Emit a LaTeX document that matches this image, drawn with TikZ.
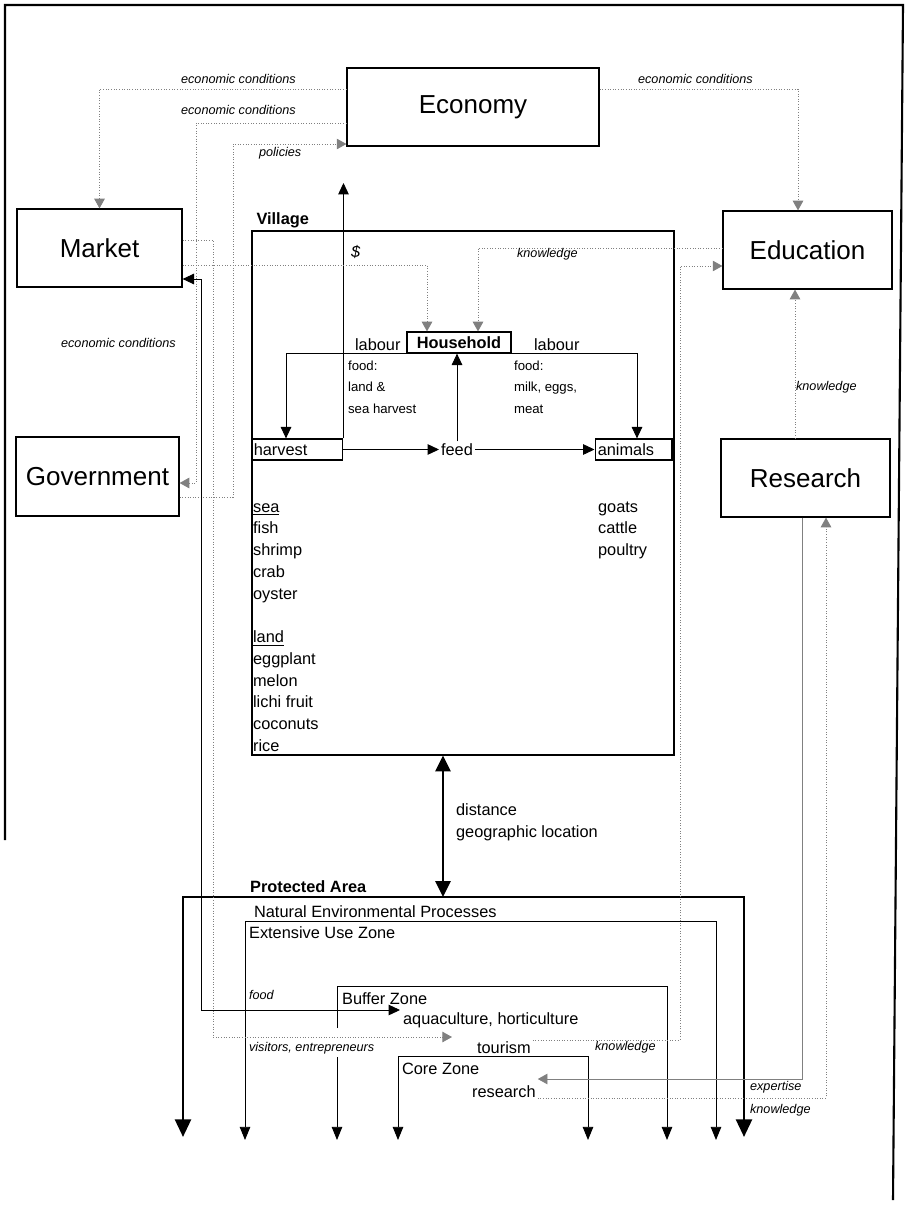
\documentclass[tikz,border=0pt]{standalone}
\usepackage{fontspec}
\setmainfont{Liberation Sans}
\usetikzlibrary{positioning,calc,arrows.meta}
\tikzset{font=\fontsize{9.3}{11}\selectfont}

\begin{document}
\begin{tikzpicture}[x=0.02cm, y=-0.02cm]
	\useasboundingbox (0,0) rectangle (910,1206);
	\begin{scope}
		\tikzstyle{every node}=[inner sep=1pt]
		\tikzstyle{bigbox}=[draw, line width=0.7pt, font=\fontsize{14.8}{17}\selectfont, minimum height=1.56cm]
		\tikzstyle{smallbox}=[draw, line width=0.7pt, minimum height=0.42cm, inner xsep=1.5pt, inner ysep=0pt, align=left]
		\tikzstyle{txt}=[anchor=base west]
		\tikzstyle{lbl}=[anchor=base west, font=\fontsize{7.2}{9}\selectfont\itshape]
		\tikzstyle{note}=[anchor=base west, font=\fontsize{7.5}{9}\selectfont]
		\tikzstyle{head}=[anchor=base west, font=\fontsize{9.3}{11}\selectfont\bfseries]
		\tikzstyle{flow}=[line width=0.5pt, -{Triangle[length=6.5pt, width=6pt]}]
		\tikzstyle{both}=[line width=0.5pt, {Triangle[length=6.5pt, width=6pt]}-{Triangle[length=6.5pt, width=6pt]}]
		\tikzstyle{link}=[black!50, densely dotted, line width=0.5pt, -{Triangle[length=5.5pt, width=6pt]}]
		\tikzstyle{zone}=[line width=0.5pt, {Triangle[length=7.5pt, width=6pt]}-{Triangle[length=7.5pt, width=6pt]}]
		\tikzstyle{zoneend}=[line width=0.5pt, -{Triangle[length=7.5pt, width=6pt]}]
		\tikzstyle{parea}=[line width=1.6pt, {Triangle[length=10pt, width=9pt]}-{Triangle[length=10pt, width=9pt]}]
		\tikzstyle{dist}=[line width=1.6pt, {Triangle[length=9pt, width=8.5pt]}-{Triangle[length=9pt, width=8.5pt]}]

		% frame
		\draw[line width=1.2pt] (5,840) -- (5,5) -- (903,5) -- (893,1200);

		% outside boxes
		\node[bigbox, minimum width=5.04cm] (economy) at (473,107) {Economy};
		\node[bigbox, minimum width=3.3cm] (market) at (99.5,248) {Market};
		\node[bigbox, minimum width=3.26cm, minimum height=1.58cm] (government) at (97.5,476.5) {Government};
		\node[bigbox, minimum width=3.38cm] (education) at (807.5,250) {Education};
		\node[bigbox, minimum width=3.38cm] (research) at (805.5,478) {Research};

		% village
		\node[draw, line width=0.7pt, minimum width=8.44cm, minimum height=10.48cm] (village) at (463,493) {};
		\node[head, anchor=south west, xshift=0.06cm] (villagelbl) at (village.north west) {Village};
		\node[smallbox, font=\fontsize{9.3}{11}\selectfont\bfseries, minimum width=2.08cm] (household) at (459,342.5) {Household};
		\node[smallbox, text width=1.73cm] (harvest) at (297,449.5) {harvest};
		\node[smallbox, text width=1.43cm] (animals) at (633.5,449.5) {animals};
		\node (feed) at (457,449.5) {feed};

		\node[txt] (labourl) at (353,350) {labour};
		\node[txt] (labourr) at (532,350) {labour};
		\node[note] (foodl1) at (346,370) {food:};
		\node[note] (foodl2) at (346,391) {land \&};
		\node[note] (foodl3) at (346,413) {sea harvest};
		\node[note] (foodr1) at (512,370) {food:};
		\node[note] (foodr2) at (512,391) {milk, eggs,};
		\node[note] (foodr3) at (512,413) {meat};
		\node[txt, font=\fontsize{9.3}{11}\selectfont\itshape] (dollar) at (349,257) {\$};

		\foreach \w/\i in {\underline{sea}/0, fish/1, shrimp/2, crab/3, oyster/4, \underline{land}/6, eggplant/7, melon/8, lichi fruit/9, coconuts/10, rice/11}
			\node[txt] (crop\i) at (251,512+21.75*\i) {\w};
		\foreach \w/\i in {goats/0, cattle/1, poultry/2}
			\node[txt] (stock\i) at (596,512+21.75*\i) {\w};

		% village flows
		\draw[flow] (harvest.north east) -- (harvest.north east |- 0,183);
		\draw[flow] (household.south west) -| (harvest.north -| 286,0);
		\draw[flow] (household.south east) -| (animals.north -| 637,0);
		\draw[flow] (feed.north) -- (feed.north |- household.south);
		\draw[flow] (harvest.east) -- (feed.west);
		\draw[flow] (feed.east) -- (animals.west);

		% protected area
		\coordinate (patop) at (443,897);
		\draw[dist] (village.south -| patop) -- (patop);
		\node[txt] (dist1) at (454,815) {distance};
		\node[txt] (dist2) at (454,837) {geographic location};

		\draw[parea] (183,1137) |- (744,897) -- (744,1137);
		\draw[zone] (245,1140) |- (716,921) -- (716,1140);
		\draw[zoneend] (337,1028) |- (667,986) -- (667,1140);
		\draw[zoneend] (337,1057) -- (337,1140);
		\draw[zone] (398,1140) |- (588,1056) -- (588,1140);

		\node[head] (palbl) at (248,892) {Protected Area};
		\node[txt] (nature) at (252,917) {Natural Environmental Processes};
		\node[txt] (extensive) at (247,938) {Extensive Use Zone};
		\node[txt] (buffer) at (340,1004) {Buffer Zone};
		\node[txt] (aqua) at (401,1024) {aquaculture, horticulture};
		\node[txt] (tourism) at (475,1053) {tourism};
		\node[txt] (core) at (400,1074) {Core Zone};
		\node[txt] (coreres) at (470,1097) {research};

		% links between boxes
		\draw[link] (economy.west |- 0,89) -| (market.north);
		\draw[link] (economy.west |- 0,123) -- (196,123) |- (government.east |- 0,483);
		\draw[link] (economy.east |- 0,89) -| (education.north -| 798,0);
		\draw[link] (government.east |- 0,497) -| (233,144) -- (economy.west |- 0,144);
		\draw[link] (market.east |- 0,265) -| (household.north -| 427,0);
		\draw[link] (market.east |- 0,240) -| (213,1037) -- (452,1037);
		\draw[both] (market.east |- 0,279) -| (201,1010) -- (400,1010);
		\draw[link] (education.west |- 0,248) -| (household.north -| 478,0);
		\draw[link] (research.north -| 795,0) -- (education.south -| 795,0);
		\draw[link] (tourism.east |- 0,1040) -| (680,266) -- (education.west |- 0,266);
		\draw[link, solid] (research.south -| 802,0) |- (coreres.east |- 0,1079);
		\draw[link] (coreres.east |- 0,1098) -| (research.south -| 826,0);

		% link labels
		\node[lbl] (ec1) at (179,84) {economic conditions};
		\node[lbl] (ec2) at (179,115) {economic conditions};
		\node[lbl] (ec3) at (636,84) {economic conditions};
		\node[lbl] (ec4) at (59,347) {economic conditions};
		\node[lbl] (pol) at (257,157) {policies};
		\node[lbl] (know1) at (515,257) {knowledge};
		\node[lbl] (know2) at (794,390) {knowledge};
		\node[lbl] (food) at (247,999) {food};
		\node[lbl] (visit) at (247,1051) {visitors, entrepreneurs};
		\node[lbl] (know3) at (593,1050) {knowledge};
		\node[lbl] (exp) at (748,1090) {expertise};
		\node[lbl] (know4) at (748,1113) {knowledge};
	\end{scope}
\end{tikzpicture}
\end{document}
